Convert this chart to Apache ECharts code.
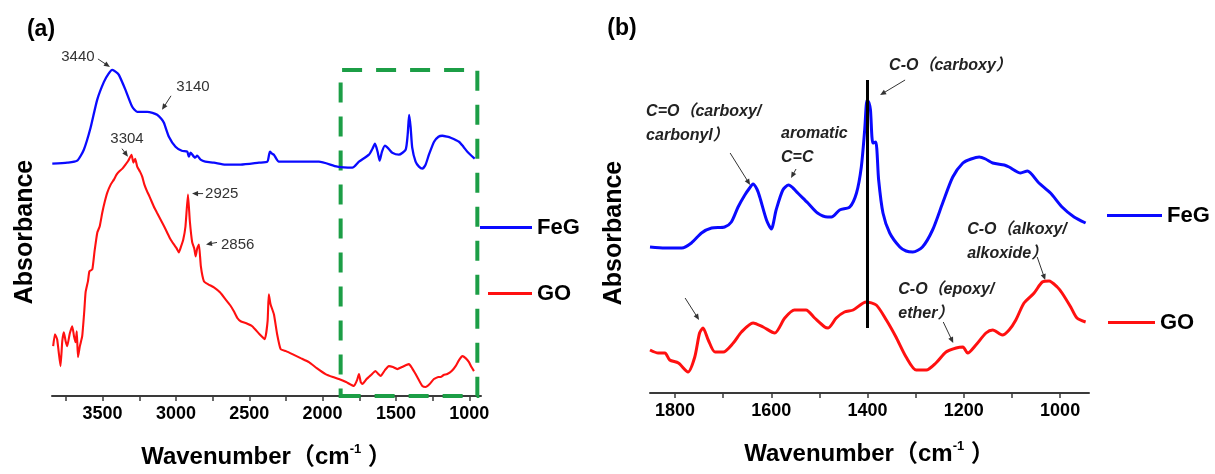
<!DOCTYPE html>
<html>
<head>
<meta charset="utf-8">
<script src="https://cdn.jsdelivr.net/npm/echarts@6/dist/echarts.min.js"></script>
<style>
html,body{margin:0;padding:0;background:#fff;}
#c{width:1215px;height:474px;}
</style>
</head>
<body>
<div id="c"></div>
<script>
// ---------- data (wavenumber cm-1, absorbance a.u.) ----------
const feG_a = [[3843,233],[3741,234],[3673,236],[3628,247],[3582,269],[3537,297],[3491,315],[3460,323],[3434,327],[3410,325],[3389,322],[3344,307],[3298,290],[3264,285],[3230,285],[3196,285],[3160,284],[3128,282],[3100,278],[3082,274],[3048,260],[3003,250],[2960,246],[2923,245],[2912,240],[2900,244],[2870,239],[2855,241],[2832,237],[2800,235],[2741,234],[2662,232],[2559,232],[2434,234],[2377,235],[2365,242],[2359,245],[2345,243],[2332,242],[2298,235],[2162,235],[2025,235],[1900,230],[1797,229],[1752,235],[1684,242],[1660,248],[1643,253],[1625,245],[1611,236],[1595,245],[1575,251],[1550,248],[1525,244],[1480,242],[1434,247],[1420,262],[1410,282],[1400,270],[1389,249],[1366,235],[1343,230],[1320,228],[1298,232],[1275,242],[1240,255],[1210,260],[1184,261],[1150,260],[1127,259],[1070,255],[1040,250],[1013,245],[963,238]];
const go_a = [[3837,50],[3825,62],[3810,57],[3800,45],[3787,30],[3775,55],[3764,64],[3752,55],[3741,50],[3725,62],[3707,70],[3695,60],[3684,54],[3676,65],[3668,39],[3655,50],[3639,60],[3625,85],[3616,104],[3600,115],[3590,125],[3570,127],[3555,145],[3536,164],[3520,170],[3502,184],[3485,195],[3468,204],[3445,212],[3423,217],[3405,222],[3389,225],[3365,228],[3344,232],[3325,236],[3303,242],[3290,234],[3278,238],[3264,230],[3245,225],[3230,220],[3215,212],[3196,205],[3180,200],[3151,190],[3130,184],[3105,177],[3080,170],[3060,164],[3040,158],[3014,152],[2995,148],[2980,144],[2965,150],[2950,157],[2935,170],[2918,202],[2905,175],[2889,154],[2875,148],[2866,140],[2855,148],[2843,152],[2830,130],[2809,115],[2780,112],[2741,109],[2700,104],[2662,97],[2630,91],[2605,85],[2580,78],[2559,75],[2520,73],[2480,70],[2430,62],[2394,57],[2375,75],[2367,102],[2355,92],[2332,82],[2310,62],[2286,47],[2250,45],[2206,42],[2150,38],[2093,34],[2040,28],[1980,22],[1930,19],[1889,17],[1840,14],[1786,10],[1765,16],[1752,22],[1740,14],[1729,12],[1700,17],[1670,21],[1639,25],[1620,22],[1604,20],[1575,26],[1548,30],[1520,29],[1491,27],[1460,29],[1430,31],[1411,32],[1390,28],[1366,22],[1340,15],[1320,10],[1298,9],[1270,12],[1241,17],[1210,19],[1195,19],[1175,21],[1150,22],[1120,25],[1093,30],[1070,36],[1047,40],[1025,38],[1002,34],[985,29],[968,25]];
const feG_b = [[1852,146],[1821,145],[1786,145],[1766,150],[1745,160],[1724,165],[1697,166],[1683,171],[1669,186],[1655,198],[1645,205],[1638,209],[1630,204],[1624,196],[1610,173],[1600,164],[1590,183],[1576,203],[1564,208],[1555,205],[1545,200],[1524,190],[1504,180],[1483,176],[1475,176],[1458,183],[1437,186],[1423,200],[1413,226],[1406,263],[1401,293],[1397,290],[1394,283],[1389,250],[1383,251],[1377,213],[1368,180],[1354,160],[1333,146],[1320,142],[1306,141],[1286,146],[1265,163],[1244,190],[1223,216],[1202,230],[1185,234],[1168,236],[1155,234],[1140,230],[1116,228],[1106,226],[1082,220],[1068,222],[1044,210],[1020,200],[996,186],[971,176],[947,170]];
const go_b = [[1852,43],[1835,40],[1821,40],[1811,33],[1793,30],[1773,21],[1759,36],[1749,60],[1742,65],[1731,53],[1717,41],[1700,41],[1679,50],[1662,61],[1638,70],[1617,66],[1593,60],[1572,75],[1552,83],[1528,83],[1510,75],[1489,66],[1482,65],[1465,75],[1448,81],[1430,83],[1403,91],[1382,88],[1361,73],[1341,56],[1320,36],[1299,23],[1278,23],[1258,30],[1237,41],[1216,45],[1202,46],[1192,40],[1175,48],[1154,60],[1140,63],[1120,58],[1106,63],[1092,73],[1075,90],[1054,100],[1037,111],[1023,112],[1006,106],[996,100],[978,86],[965,75],[947,71]];

const seriesNames = ['FeG', 'GO'];
const tickValuesA = [1000,1250,1500,1750,2000,2250,2500,2750,3000,3250,3500,3750];
const tickLabelsA = [1000,1500,2000,2500,3000,3500];
const tickValuesB = [1000,1100,1200,1300,1400,1500,1600,1700,1800];
const tickLabelsB = [1000,1200,1400,1600,1800];
const zoomBoxA = [1877, 945, 0, 327];     // highlighted region (x from, x to, y from, y to)
const refLineB = [1400, 65, 313];          // vertical reference line at 1400 cm-1

// annotations: text, tip point in data coords, tail offset (px), text offset (px)
const annotA = [
  {text:'3440', tip:[3450,330], tail:[-12,-8], pos:[-32,-10], align:'center'},
  {text:'3140', tip:[3095,287], tail:[9,-14], pos:[31,-23], align:'center'},
  {text:'3304', tip:[3327,240], tail:[-6,-8], pos:[-1,-18], align:'center'},
  {text:'2925', tip:[2890,203], tail:[11,0], pos:[13,0], align:'left'},
  {text:'2856', tip:[2795,152], tail:[11,-2], pos:[15,0], align:'left'}
];
const annotB = [
  {text:'C=O（carboxy/\ncarbonyl）', tip:[1644,208], tail:[-20,-32], pos:[-104,-85]},
  {text:'aromatic\nC=C', tip:[1559,215], tail:[5,-9], pos:[-10,-56]},
  {text:'C-O（carboxy）', tip:[1374,298], tail:[25,-15], pos:[9,-41]},
  {text:'C-O（alkoxy/\nalkoxide）', tip:[1031,113], tail:[-8,-23], pos:[-78,-62]},
  {text:'C-O（epoxy/\nether）', tip:[1222,50], tail:[-10,-21], pos:[-55,-65]},
  {text:'', tip:[1750,73], tail:[-14,-22], pos:[0,0]}
];

const FONT = '"Liberation Sans", Arial, "Noto Sans CJK SC", sans-serif';
const BLUE = '#0a0aff', RED = '#ff1010', GREEN = '#1c9e46';

const chart = echarts.init(document.getElementById('c'), null, {renderer:'canvas'});

function xAxisCfg(grid, min, max, ticks, labels){
  return {
    type:'value', gridIndex:grid, inverse:true, min:min, max:max,
    axisLine:{show:true, onZero:false, lineStyle:{color:'#3a3a3a', width:2}},
    axisTick:{show:true, customValues:ticks, length:5, inside:false, lineStyle:{color:'#3a3a3a', width:1.5}},
    axisLabel:{show:true, customValues:labels, margin:9, fontSize:18, fontWeight:'bold', color:'#000', fontFamily:FONT,
      formatter:function(v){ return String(v); }},
    splitLine:{show:false},
    name:'{t|Wavenumber（cm}{s|-1}{t| ）}',
    nameLocation:'middle', nameGap:47,
    nameTextStyle:{fontFamily:FONT, rich:{
      t:{fontSize:24, fontWeight:'bold', color:'#000', fontFamily:FONT, lineHeight:28},
      s:{fontSize:13, fontWeight:'bold', color:'#000', fontFamily:FONT, verticalAlign:'top', lineHeight:28, padding:[0,0,10,0]}
    }}
  };
}
function yAxisCfg(grid){
  return {type:'value', gridIndex:grid, min:0, max:350, show:false};
}

const legendText = {fontSize:22, fontWeight:'bold', color:'#000', fontFamily:FONT};
function legendCfg(name, left, centerY, w){
  return {data:[{name:name, icon:'rect'}], left:left, top:centerY-10.5, itemWidth:w, itemHeight:3, padding:0,
          selectedMode:false, textStyle:legendText};
}

const option = {
  animation:false,
  backgroundColor:'#fff',
  grid:[
    {left:52, top:47, width:429, height:350},
    {left:650, top:43, width:439, height:350}
  ],
  xAxis:[ xAxisCfg(0, 920, 3845, tickValuesA, tickLabelsA), xAxisCfg(1, 940, 1852, tickValuesB, tickLabelsB) ],
  yAxis:[ yAxisCfg(0), yAxisCfg(1) ],
  legend:[
    legendCfg(seriesNames[0], 480, 227, 52),
    legendCfg(seriesNames[1], 488, 293, 44),
    legendCfg(seriesNames[0], 1107, 215, 55),
    legendCfg(seriesNames[1], 1108, 322, 47)
  ],
  series:[
    {name:seriesNames[0], type:'line', xAxisIndex:0, yAxisIndex:0, data:feG_a, symbol:'none', smooth:0.2,
     lineStyle:{color:BLUE, width:2.3}, itemStyle:{color:BLUE},
     markArea:{silent:true, itemStyle:{color:'rgba(0,0,0,0)', borderColor:GREEN, borderWidth:4, borderType:[20,14]},
       data:[[{coord:[zoomBoxA[0], zoomBoxA[2]]},{coord:[zoomBoxA[1], zoomBoxA[3]]}]]}},
    {name:seriesNames[1], type:'line', xAxisIndex:0, yAxisIndex:0, data:go_a, symbol:'none', smooth:0.15,
     lineStyle:{color:RED, width:2.1}, itemStyle:{color:RED}},
    {name:seriesNames[0], type:'line', xAxisIndex:1, yAxisIndex:1, data:feG_b, symbol:'none', smooth:0.25,
     lineStyle:{color:BLUE, width:3}, itemStyle:{color:BLUE},
     markLine:{silent:true, symbol:'none', label:{show:false}, lineStyle:{color:'#000', width:3, type:'solid'},
       data:[[{coord:[refLineB[0], refLineB[1]]},{coord:[refLineB[0], refLineB[2]]}]]}},
    {name:seriesNames[1], type:'line', xAxisIndex:1, yAxisIndex:1, data:go_b, symbol:'none', smooth:0.25,
     lineStyle:{color:RED, width:3}, itemStyle:{color:RED}}
  ]
};
chart.setOption(option);

// ---------- titles & annotations ----------
const g = [];
g.push({type:'text', x:41, y:30, style:{text:'(a)', font:'bold 23px '+FONT, fill:'#000', textAlign:'center', textVerticalAlign:'middle'}});
g.push({type:'text', x:622, y:29, style:{text:'(b)', font:'bold 23px '+FONT, fill:'#000', textAlign:'center', textVerticalAlign:'middle'}});
g.push({type:'text', x:25, y:232, rotation:Math.PI/2, style:{text:'Absorbance', font:'bold 25px '+FONT, fill:'#000', textAlign:'center', textVerticalAlign:'middle'}});
g.push({type:'text', x:614, y:233, rotation:Math.PI/2, style:{text:'Absorbance', font:'bold 25px '+FONT, fill:'#000', textAlign:'center', textVerticalAlign:'middle'}});

function arrow(tip, tail, color){
  const dx = tip[0]-tail[0], dy = tip[1]-tail[1];
  const len = Math.sqrt(dx*dx+dy*dy) || 1;
  const ux = dx/len, uy = dy/len, px = -uy, py = ux;
  const L = 6, W = 2.6;
  const bx = tip[0]-ux*L, by = tip[1]-uy*L;
  g.push({type:'line', shape:{x1:tail[0], y1:tail[1], x2:bx+ux*1, y2:by+uy*1}, style:{stroke:color, lineWidth:1}});
  g.push({type:'polygon', shape:{points:[[tip[0],tip[1]],[bx+px*W,by+py*W],[bx-px*W,by-py*W]]}, style:{fill:color}});
}
annotA.forEach(a=>{
  const p = chart.convertToPixel({gridIndex:0}, a.tip);
  arrow(p, [p[0]+a.tail[0], p[1]+a.tail[1]], '#333');
  g.push({type:'text', x:p[0]+a.pos[0], y:p[1]+a.pos[1], style:{text:a.text, font:'15px '+FONT, fill:'#333', textAlign:a.align, textVerticalAlign:'middle'}});
});
annotB.forEach(a=>{
  const p = chart.convertToPixel({gridIndex:1}, a.tip);
  arrow(p, [p[0]+a.tail[0], p[1]+a.tail[1]], '#333');
  if (a.text) g.push({type:'text', x:p[0]+a.pos[0], y:p[1]+a.pos[1], style:{text:a.text, font:'italic bold 16px '+FONT, fill:'#222', textAlign:'left', textVerticalAlign:'top', lineHeight:24}});
});
chart.setOption({graphic:g});
</script>
</body>
</html>
